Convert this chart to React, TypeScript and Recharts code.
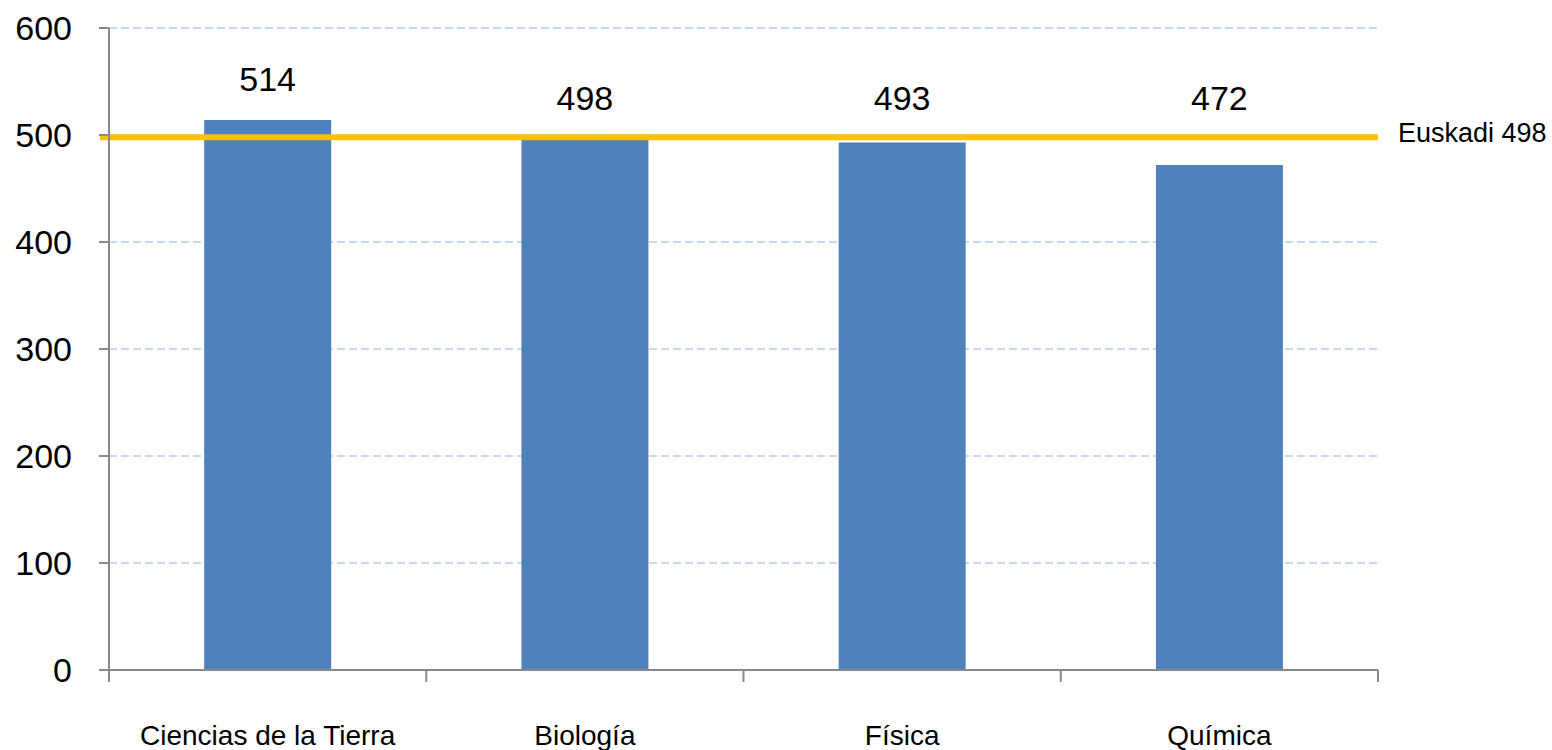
import React from 'react';
import { BarChart, Bar, XAxis, YAxis, CartesianGrid, ReferenceLine, LabelList } from 'recharts';

const categories = ['Ciencias de la Tierra', 'Biología', 'Física', 'Química'];
const scores = [514, 498, 493, 472];
const euskadi = 498;
const yTicks = [0, 100, 200, 300, 400, 500, 600];

const FONT = '"Liberation Sans", Arial, sans-serif';
const AXIS = '#898989';

const W = 1552;
const H = 750;
const LEFT = 109;
const RIGHT = 174;
const TOP = 28;
const BOTTOM = 80;
const bandWidth = (W - LEFT - RIGHT) / categories.length;

const data = categories.map((name, i) => ({ name, value: scores[i] }));

// category ticks sit on the band boundaries (Excel style), labels in the middle
const CategoryTick = (props: any) => {
  const { x, y, payload, index } = props;
  const axisY = y - 12;
  const left = x - bandWidth / 2;
  return (
    <g>
      <line x1={left} y1={axisY} x2={left} y2={axisY + 12} stroke={AXIS} strokeWidth={2} />
      {index === categories.length - 1 && (
        <line x1={left + bandWidth} y1={axisY} x2={left + bandWidth} y2={axisY + 12} stroke={AXIS} strokeWidth={2} />
      )}
      <text x={x} y={axisY + 75} textAnchor="middle" fontFamily={FONT} fontSize={28} fill="#000">
        {payload.value}
      </text>
    </g>
  );
};

// value labels: above the bar, but kept above the Euskadi line when the bar is below it
const ValueLabel = (props: any) => {
  const { x, y, width, height, value } = props;
  const base = y + height;
  const perUnit = height / value;
  const refY = base - euskadi * perUnit;
  const cy = value > euskadi ? y - 41 : refY - 39;
  return (
    <text x={x + width / 2} y={cy} textAnchor="middle" dominantBaseline="central" fontFamily={FONT} fontSize={34} fill="#000">
      {value}
    </text>
  );
};

const RefShape = (props: any) => {
  const { x1, y1, x2, y2 } = props;
  return (
    <g>
      <line x1={x1 - 9} y1={y1} x2={x2} y2={y2} stroke="#FFC000" strokeWidth={6} />
      <text x={x2 + 20} y={y1 - 4} dominantBaseline="central" fontFamily={FONT} fontSize={27} fill="#000">
        {`Euskadi ${euskadi}`}
      </text>
    </g>
  );
};

export default function App() {
  return (
    <div style={{ position: 'absolute', left: 0, top: 0, width: W, height: H, background: '#fff' }}>
      <BarChart
        width={W}
        height={H}
        data={data}
        margin={{ top: TOP, right: RIGHT, bottom: 0, left: 0 }}
        barCategoryGap="30%"
      >
        <CartesianGrid vertical={false} stroke="#C6D9F1" strokeWidth={2} strokeDasharray="8 4" />
        <XAxis
          dataKey="name"
          height={BOTTOM}
          tickLine={false}
          tickSize={12}
          tickMargin={0}
          axisLine={{ stroke: AXIS, strokeWidth: 2 }}
          tick={<CategoryTick />}
          interval={0}
        />
        <YAxis
          width={LEFT}
          domain={[0, 600]}
          ticks={yTicks}
          tickSize={10}
          tickMargin={27}
          axisLine={{ stroke: AXIS, strokeWidth: 2 }}
          tickLine={{ stroke: AXIS, strokeWidth: 2 }}
          tick={{ fontFamily: FONT, fontSize: 34, fill: '#000' }}
        />
        <Bar dataKey="value" fill="#4F81BD" isAnimationActive={false}>
          <LabelList dataKey="value" content={<ValueLabel />} />
        </Bar>
        <ReferenceLine y={euskadi} shape={<RefShape />} ifOverflow="visible" />
      </BarChart>
    </div>
  );
}
